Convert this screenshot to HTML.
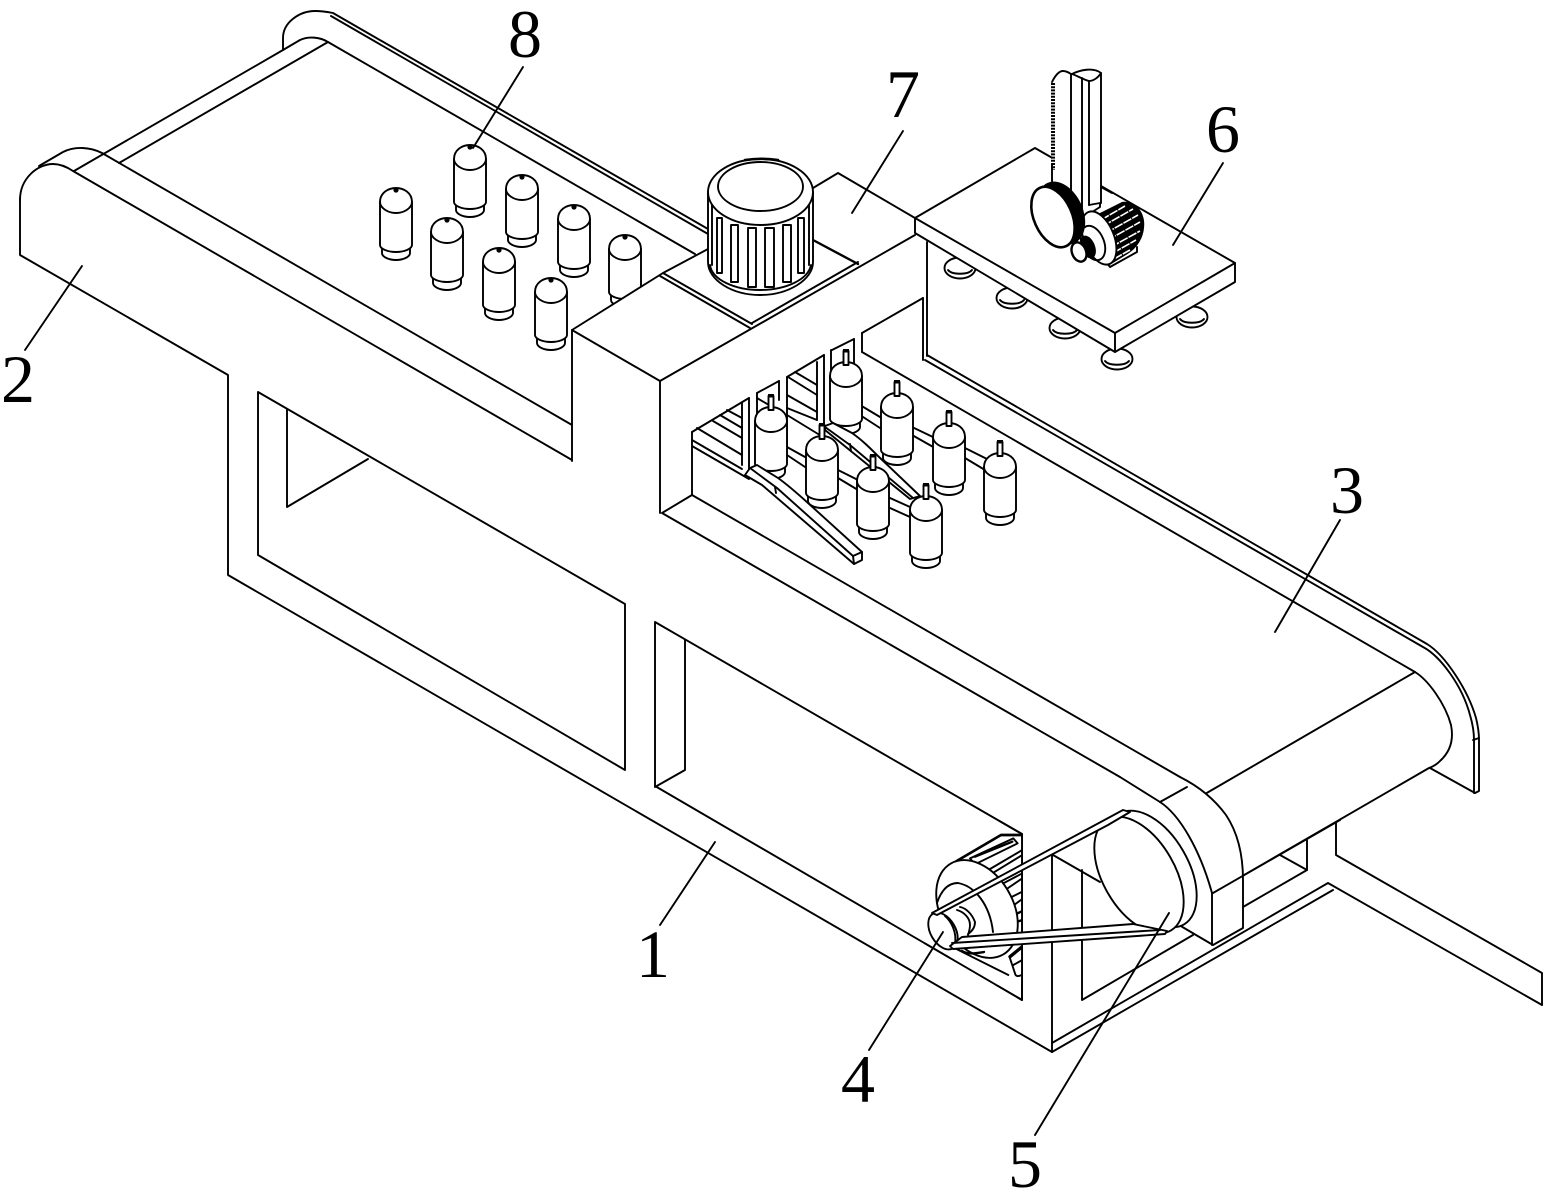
<!DOCTYPE html>
<html>
<head>
<meta charset="utf-8">
<style>
html,body{margin:0;padding:0;background:#fff;}
svg{display:block;}
.l{fill:none;stroke:#000;stroke-width:1.9;stroke-linejoin:round;stroke-linecap:round;}
.w{fill:#fff;stroke:#000;stroke-width:1.9;stroke-linejoin:round;}
.t{font-family:"Liberation Serif",serif;font-size:68px;fill:#000;text-anchor:middle;}
.k{fill:#000;stroke:none;}
.z{fill:none;stroke:#000;stroke-width:5.7;stroke-linejoin:round;stroke-linecap:round;}
</style>
</head>
<body>
<svg width="1550" height="1191" viewBox="0 0 1550 1191" xmlns="http://www.w3.org/2000/svg">
<defs>
<g id="b">
<path class="w" d="M-14 58V65C-14 69-7 72 0 72C7 72 14 69 14 65V58Z"/>
<path class="w" d="M-16 14C-16 5-8 0 0 0C8 0 16 5 16 14V57C16 61 8 64 0 64C-8 64-16 61-16 57Z"/>
<path class="l" d="M-16 14C-16 20-8 25 0 25C8 25 16 20 16 14"/>
<circle class="k" cx="0" cy="2" r="2.6"/>
</g>
<g id="s">
<path class="w" d="M-14 58V65C-14 69-7 72 0 72C7 72 14 69 14 65V58Z"/>
<path class="w" d="M-16 14C-16 5-8 0 0 0C8 0 16 5 16 14V57C16 61 8 64 0 64C-8 64-16 61-16 57Z"/>
<path class="l" d="M-16 14C-16 20-8 25 0 25C8 25 16 20 16 14"/>
<rect class="w" x="-2.5" y="-11" width="5" height="14"/>
<rect class="k" x="-3" y="-13" width="6" height="3.5"/>
</g>
<g id="foot">
<ellipse class="w" cx="0" cy="0" rx="15.5" ry="10.5"/>
<path class="l" d="M-12 2C-8 7 8 7 12 2"/>
</g>
<clipPath id="c1"><rect x="900" y="800" width="122.5" height="220"/></clipPath>
</defs>

<rect width="1550" height="1191" fill="#fff"/>

<!-- left belt -->
<path class="l" d="M283 50V38C283 22 300 11 315 11C323 11 328 12 333 13L708 229"/>
<path class="l" d="M331 16L708 234"/>
<path class="l" d="M74 171L283 50L300 40C308 36 320 37 328 42L695 254"/>
<path class="l" d="M119 163L328 42"/>
<path class="l" d="M39 166L63 152C75 146 90 147 102 153L572 425"/>
<path class="l" d="M20 200C20 178 38 164 53 164C61 164 67 167 73 171L572 460"/>
<path class="l" d="M20 198V255L228 375V575L1052 1052"/>
<path class="l" d="M572 330V461"/>

<!-- upper bottles -->
<use href="#b" x="625" y="235"/>
<use href="#b" x="470" y="145"/>
<use href="#b" x="522" y="175"/>
<use href="#b" x="574" y="205"/>
<use href="#b" x="396" y="188"/>
<use href="#b" x="447" y="218"/>
<use href="#b" x="499" y="248"/>
<use href="#b" x="551" y="278"/>

<!-- frame openings -->
<path class="l" d="M287 410V507L368 459"/>
<path class="l" d="M258 392L625 604V770L258 555Z"/>
<path class="l" d="M685 640V770L655 787"/>
<path class="l" d="M655 622L1022 834V1000L655 786Z"/>

<!-- block 7 -->
<path class="w" d="M572 330L663 273L708 249V200L813 188L838 173L915 218V235L660 381Z" style="stroke:none"/>
<path class="l" d="M572 330L663 273L708 249M813 188L838 173L915 218"/>
<path class="l" d="M572 330L660 381L915 235"/>
<path class="l" d="M663 273L752 324"/>
<path class="l" d="M660 276L750 328"/>
<path class="l" d="M752 323L858 262"/>
<path class="l" d="M813 240L858 264" style="stroke-width:2.4"/>
<path class="l" d="M660 381V513"/>

<!-- motor on block -->
<path class="w" d="M708 192V262C708 280 732 295 760 295C788 295 813 280 813 262V192Z"/>
<path class="l" d="M710 265C712 280 735 290 760 290C785 290 808 280 811 265"/>
<path class="w" d="M717 218H722V273H717Z"/>
<path class="w" d="M731 225H738V282H731Z"/>
<path class="w" d="M748 228H756V287H748Z"/>
<path class="w" d="M765 228H774V287H765Z"/>
<path class="w" d="M783 225H791V282H783Z"/>
<path class="w" d="M798 218H804V273H798Z"/>
<path class="l" d="M712 200V265M809 200V265"/>
<ellipse class="w" cx="760.5" cy="192" rx="52.5" ry="33"/>
<ellipse class="l" cx="760.5" cy="186.500" rx="42.5" ry="24.5"/>
<path class="l" d="M745 160C755 158.500 768 158.500 778 160" style="stroke-width:2.6"/>

<!-- opening interior -->
<path class="l" d="M692 432L749 398M757 393L779 381M787 377L824 355M832 350L854 339M862 333L923 298"/>
<path class="l" d="M692 432V495"/>
<!-- left slats -->
<path class="l" d="M727 410L742 418M720 415L742 428M713 421L742 438"/>
<path class="l" d="M697 428L742 455M692 440L742 469M692 446L749 479"/>
<path class="l" d="M742 403V465"/>
<path class="l" d="M749 398V470M757 393V465"/>
<path class="l" d="M779 381V400"/>
<path class="l" d="M757 398L779 411"/>
<!-- mid slats -->
<path class="l" d="M795 372L817 385M788 377L817 395M787 395L817 412M787 408L817 420M787 415L823 437"/>
<path class="l" d="M787 377V447M817 362V420M824 355V425"/>
<path class="l" d="M831 350V373M854 339V373"/>
<path class="l" d="M862 333V352"/>
<!-- rails between bottles -->
<path class="l" d="M787 447L805 457M787 455L805 467"/>
<path class="l" d="M838 470L858 480M838 478L858 490"/>
<path class="l" d="M890 498L910 507M890 508L910 517"/>
<path class="l" d="M860 405L880 417M860 415L880 428"/>
<path class="l" d="M912 427L935 438M912 435L935 448"/>
<path class="l" d="M965 448L987 459M965 458L985 470"/>
<path class="l" d="M692 495L1180 777"/>
<path class="l" d="M692 495L662 513L1120 777"/>

<use href="#s" x="846" y="362"/>
<use href="#s" x="771" y="407"/>
<use href="#s" x="897" y="393"/>

<!-- ramps -->
<path class="w" d="M750 468L757 465L778 478C788 485 798 494 808 503L862 552V560L854 564L762 485L745 475Z"/>
<path class="l" d="M750 468L777 488L853 556L862 552M853 556L854 564M775 487L776 493"/>
<path class="w" d="M825 426L833 423L852 433C862 440 870 448 878 456L920 496L910 499L852 452L825 430Z"/>
<path class="l" d="M825 427L850 445L913 498M850 444L851 451"/>

<use href="#s" x="949" y="423"/>
<use href="#s" x="822" y="436"/>
<use href="#s" x="873" y="467"/>
<use href="#s" x="1000" y="453"/>
<use href="#s" x="926" y="496"/>

<!-- right wall and belt -->
<path class="l" d="M923 298V360M927 242V356"/>
<path class="l" d="M862 352L1415 672"/>
<path class="l" d="M925 360L1423 647C1440 656 1462 685 1470 715C1473 725 1474 732 1474 740V793"/>
<path class="l" d="M927 355L1427 644C1445 655 1468 690 1476 718C1478 726 1479 733 1479 740V791L1475 793"/>
<path class="l" d="M1473 740L1479 738"/>
<path class="l" d="M1415 672L1205 794"/>
<path class="l" d="M1415 672C1428 680 1445 703 1451 725C1454 740 1450 752 1440 761C1436 765 1432 767 1429 768L1213 893"/>
<path class="l" d="M1430 768L1475 793"/>

<!-- bottom frame -->
<path class="l" d="M1052 855V1052"/>
<path class="l" d="M1082 870V1000L1193 935"/>
<path class="l" d="M1052 1043L1328 883L1542 1005"/>
<path class="l" d="M1052 1052L1333 890"/>
<path class="l" d="M1336 823V855L1542 973V1005"/>
<path class="l" d="M1307 840V870L1280 855"/>
<path class="l" d="M1243 907L1307 870"/>

<!-- lower motor (drawn in crop coordinates) -->
<g clip-path="url(#c1)">
<path d="M935 870L1000 838L1024 838V985H990L950 960Z" fill="#fff"/>
<g transform="translate(925 825) scale(.3333)">
<path class="z" d="M95 108L228 30H295" style="stroke-width:8"/>
<path class="z" d="M135 100L265 40L278 55L150 118Z"/>
<path class="z" d="M150 95L262 50" style="stroke-width:7"/>
<path class="z" d="M190 135L292 75M197 148L292 90"/>
<path class="z" d="M235 175L292 145M245 192L292 160"/>
<path class="z" d="M262 215L292 200M270 238L292 222"/>
<path class="z" d="M278 265L292 258M278 290L292 285" style="stroke-width:7"/>
<path class="z" d="M255 395L292 365" style="stroke-width:10"/>
<path class="z" d="M255 400L270 445C272 455 280 455 290 450"/>
<path class="z" d="M265 420L292 405"/>
<path class="z" d="M90 370L250 450"/>
</g>
<ellipse class="w" cx="977" cy="909" rx="36" ry="52.5" transform="rotate(-30 977 909)"/>
</g>
<path class="l" d="M1022 834V1000"/>
<path class="l" d="M1000 821.300L1022 834"/>
<path class="l" d="M925 943.400L1022 1000"/>
<path class="l" d="M937 903C942 888 950 883 958 883C975 886 990 905 993 932"/>
<path class="w" d="M947 912L966 903L975 930L955 948Z" style="stroke:none"/>
<path class="l" d="M960 907C966 908 972 914 975 922C975 928 971 932 968 934"/>
<path class="l" d="M957 910C964 912 970 918 970 925C970 929 969 932 968 935"/>
<path class="l" d="M962 951C968 955 978 953 984 952" style="stroke-width:2.4"/>
<ellipse class="w" cx="943" cy="931" rx="12.5" ry="20" transform="rotate(-30 943 931)"/>
<path class="l" d="M945 916C951 921 957 932 955 944"/>

<!-- housing and big pulley -->
<path class="w" d="M1160 802L1180 777C1200 787 1215 800 1226 815C1238 833 1243 855 1243 880V928L1213 945L1179 925L1160 860Z" style="stroke:none"/>
<path class="l" d="M1160 802C1180 815 1200 850 1212 893V945"/>
<path class="l" d="M1180 777C1200 787 1215 800 1226 815C1238 833 1243 855 1243 880V928L1213 945"/>
<path class="l" d="M1160 802L1187 787"/>
<path class="l" d="M1179 925L1213 945"/>
<path class="l" d="M1213 893L1340 820"/>
<path class="l" d="M1120 777L1160 802"/>
<path class="l" d="M1053 855L1100 882"/>
<ellipse class="w" cx="1152" cy="869" rx="36" ry="64" transform="rotate(-30 1152 869)"/>
<ellipse class="w" cx="1139" cy="875" rx="36" ry="64" transform="rotate(-30 1139 875)"/>

<!-- belt strips -->
<path class="w" d="M932 913L1123 810L1130 812L1108 825L937 915Z"/>
<path class="w" d="M950 946L962 937L1133 924L1167 931L1165 934L953 949Z"/>
<path class="l" d="M952 943L1160 930"/>

<!-- machine 6 -->
<use href="#foot" x="960" y="268"/>
<use href="#foot" x="1012" y="298"/>
<use href="#foot" x="1065" y="328"/>
<use href="#foot" x="1117" y="359"/>
<use href="#foot" x="1192" y="317"/>
<path class="w" d="M915 218L1035 148L1235 263V282L1115 352L915 233Z"/>
<path class="l" d="M915 218L1115 333L1235 263M1115 333V352"/>
<path d="M1052 185V82C1055 76 1059 71 1063 71C1066 71 1068 72 1071 74L1075 72C1085 68 1095 70 1101 73V203L1070 225Z" fill="#fff"/>
<path class="l" d="M1052 185V165M1052 82C1055 76 1059 71 1063 71C1066 71 1068 72 1071 74"/>
<path class="l" d="M1101 73V203"/>
<path class="l" d="M1072 74C1080 70 1093 67 1101 73C1098 78 1093 81 1089 81C1084 80 1078 76 1072 74Z"/>
<path class="l" d="M1071 74V208M1082 78V210M1089 81V205"/>
<path d="M1053 83V170" fill="none" stroke="#000" stroke-width="4" stroke-dasharray="2 1.2"/>
<path class="l" d="M1089 205L1100 203V207L1089 214"/>
<path class="l" d="M1101 187L1112 193"/>
<!-- motor of 6 -->
<path d="M1090 218L1122 202C1135 200 1146 212 1144 228C1143 240 1135 250 1126 255L1108 266L1095 250Z" fill="#000"/>
<path d="M1101 220L1125 206M1103 226L1133 209M1106 233L1138 215M1108 240L1140 222M1111 247L1140 231M1113 253L1136 240M1114 259L1130 250" fill="none" stroke="#fff" stroke-width="1.6" stroke-dasharray="9 1"/>
<path class="l" d="M1107 263L1110 267L1137 252V247"/>
<ellipse class="w" cx="1099" cy="238" rx="15" ry="28" transform="rotate(-22 1099 238)"/>
<ellipse class="l" cx="1093" cy="243" rx="11" ry="18" transform="rotate(-22 1093 243)"/>
<ellipse cx="1088" cy="247" rx="7" ry="12" transform="rotate(-22 1088 247)" fill="#000"/>
<!-- gear -->
<ellipse cx="1061" cy="213" rx="22" ry="33" transform="rotate(-24 1061 213)" fill="#000"/>
<ellipse class="w" cx="1053" cy="217" rx="19" ry="32" transform="rotate(-24 1053 217)" style="stroke-width:2.6"/>
<ellipse class="w" cx="1079" cy="252" rx="7" ry="10" transform="rotate(-22 1079 252)" style="stroke-width:2.4"/>

<!-- leader lines -->
<path class="l" d="M523 67L473 148"/>
<path class="l" d="M903 131L852 213"/>
<path class="l" d="M1223 163L1173 245"/>
<path class="l" d="M82 266L25 350"/>
<path class="l" d="M1340 520L1275 632"/>
<path class="l" d="M715 842L660 925"/>
<path class="l" d="M943 932L869 1050"/>
<path class="l" d="M1169 913L1035 1135"/>

<!-- labels -->
<text class="t" x="525" y="57">8</text>
<text class="t" x="903" y="117">7</text>
<text class="t" x="1223" y="152">6</text>
<text class="t" x="18" y="402">2</text>
<text class="t" x="1347" y="513">3</text>
<text class="t" x="653" y="977">1</text>
<text class="t" x="858" y="1102">4</text>
<text class="t" x="1025" y="1187">5</text>
</svg>
</body>
</html>
